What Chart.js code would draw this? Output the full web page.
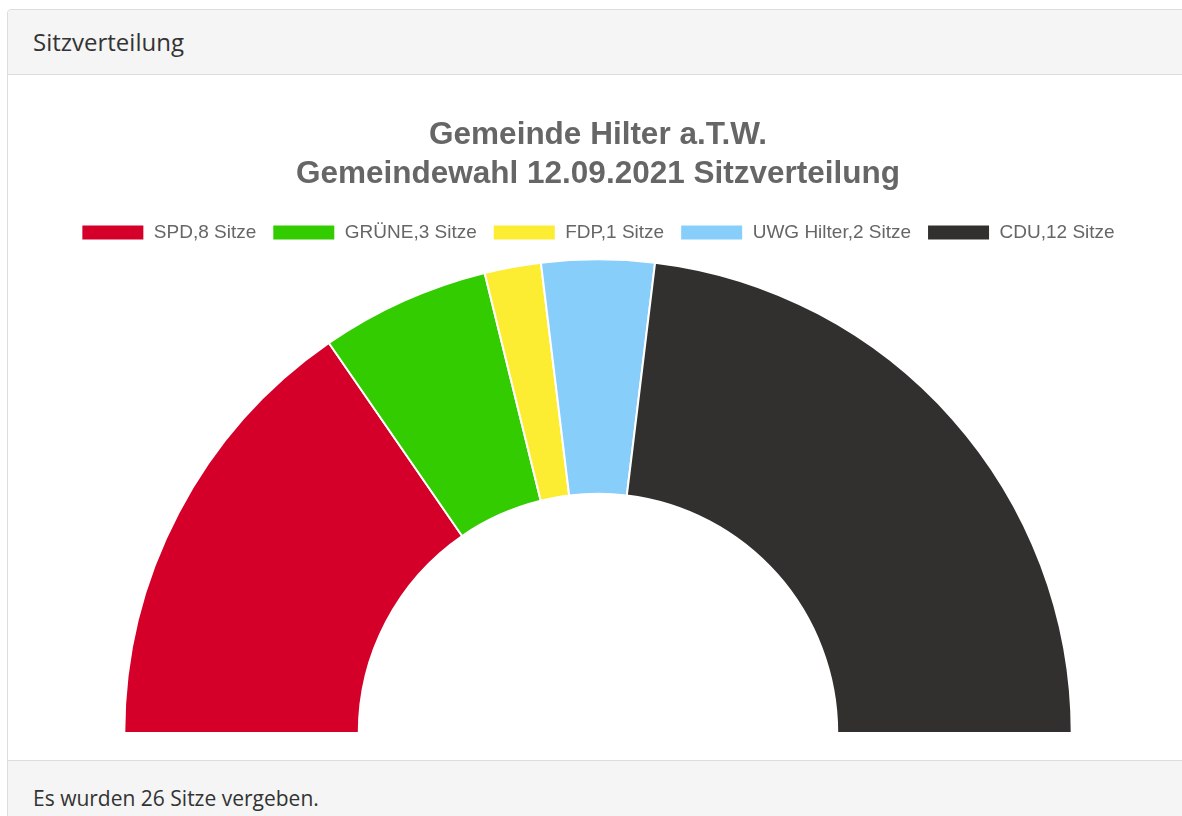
<!DOCTYPE html>
<html lang="de">
<head>
<meta charset="utf-8">
<title>Sitzverteilung</title>
<script src="https://cdn.jsdelivr.net/npm/chart.js@4/dist/chart.umd.min.js"></script>
<style>
  html, body { margin: 0; padding: 0; background: #fff; overflow: hidden; }
  body { width: 1182px; height: 816px; position: relative; }
  .panel {
    position: absolute; left: 7px; top: 9px; width: 1260px;
    border: 1px solid #ddd; border-radius: 4px; background: #fff;
    font-family: "Open Sans", "Noto Sans", sans-serif; color: #333;
  }
  .panel-heading {
    height: 64px; line-height: 64px; padding-left: 25px;
    background: #f5f5f5; border-bottom: 1px solid #ddd;
    font-size: 24px; border-radius: 4px 4px 0 0;
  }
  .panel-body { height: 685px; position: relative; }
  .chart-box { position: absolute; left: 15px; top: 15px; width: 1150px; height: 655px; }
  .panel-footer {
    height: 80px; padding-left: 25px; line-height: 74px;
    background: #f5f5f5; border-top: 1px solid #ddd; font-size: 21px;
  }
</style>
</head>
<body>
<div class="panel">
  <div class="panel-heading">Sitzverteilung</div>
  <div class="panel-body">
    <div class="chart-box"><canvas id="seatChart"></canvas></div>
  </div>
  <div class="panel-footer">Es wurden 26 Sitze vergeben.</div>
</div>
<script>
const parties = ['SPD', 'GRÜNE', 'FDP', 'UWG Hilter', 'CDU'];
const seats = [8, 3, 1, 2, 12];
const partyColors = ['#d5002a', '#33cc00', '#fced32', '#87cefa', '#32302e'];
const titleLines = ['Gemeinde Hilter a.T.W.', 'Gemeindewahl 12.09.2021 Sitzverteilung'];

const labels = parties.map((p, i) => p + ',' + seats[i] + ' Sitze');

Chart.defaults.font.family = '"Liberation Sans", Arial, sans-serif';

new Chart(document.getElementById('seatChart').getContext('2d'), {
  type: 'doughnut',
  data: {
    labels: labels,
    datasets: [{
      data: seats,
      backgroundColor: partyColors,
      borderColor: '#fff',
      borderWidth: 2
    }]
  },
  options: {
    responsive: true,
    maintainAspectRatio: false,
    animation: false,
    circumference: 180,
    rotation: -90,
    cutout: '50.5%',
    radius: '97.5%',
    layout: { padding: { bottom: 5 } },
    plugins: {
      title: {
        display: true,
        text: titleLines,
        color: '#666',
        font: { size: 31.5, weight: 'bold', lineHeight: 1.24 },
        padding: { top: 26, bottom: 13 }
      },
      legend: {
        position: 'top',
        labels: {
          color: '#666',
          font: { size: 19 },
          boxWidth: 63,
          boxHeight: 16,
          padding: 16
        }
      },
      tooltip: { enabled: false }
    }
  }
});
</script>
</body>
</html>
